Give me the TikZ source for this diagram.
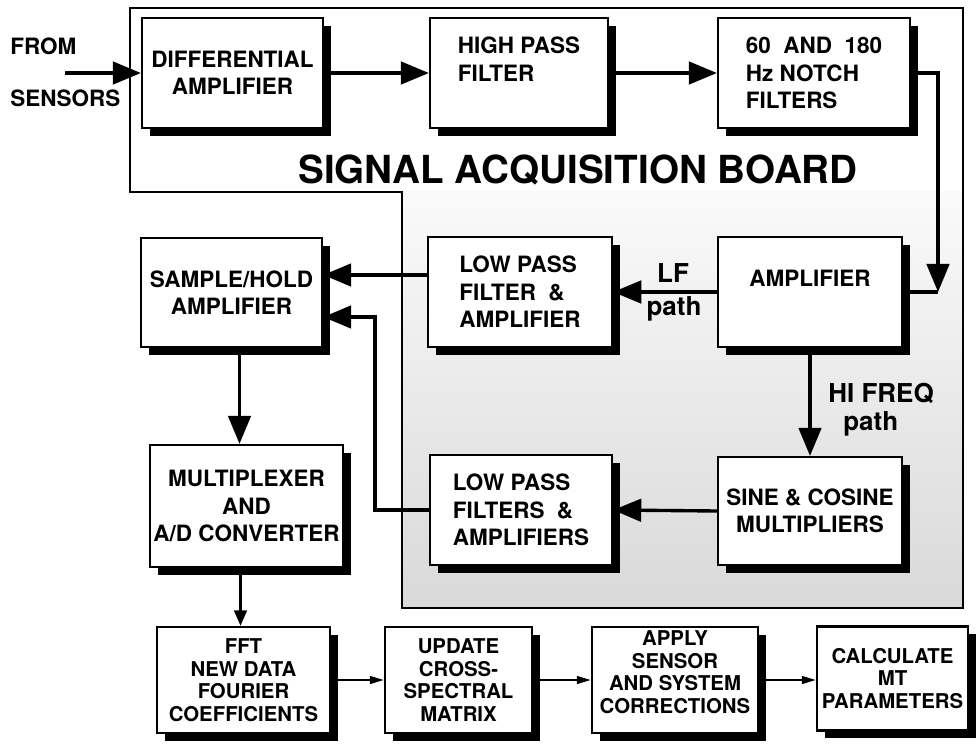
\documentclass[tikz,border=0pt]{standalone}
\usepackage{fontspec}
\setmainfont{TeX Gyre Heros}
\usetikzlibrary{arrows.meta, shadows}

\begin{document}
\begin{tikzpicture}[
  blk/.style={rectangle, draw=black, line width=1.6pt, fill=white,
              drop shadow={shadow xshift=0.2cm, shadow yshift=-0.2cm,
                           fill=black, opacity=1},
              align=center, inner sep=2pt,
              font=\fontsize{16}{19.5}\selectfont\bfseries},
  lblk/.style={blk, align=left},
  pblk/.style={blk, font=\fontsize{14.5}{16}\selectfont\bfseries},
  arr/.style={-{Triangle[length=20pt,width=16pt]}, line width=2.4pt},
  midarr/.style={-{Triangle[length=11pt,width=9pt]}, line width=1.8pt},
  smarr/.style={-{Triangle[length=10pt,width=5.5pt]}, line width=1.5pt},
  lbl/.style={font=\fontsize{16}{19.5}\selectfont\bfseries, anchor=base west, inner sep=0pt},
  plbl/.style={font=\fontsize{18.5}{20}\selectfont\bfseries, anchor=base, inner sep=0pt}
]
\useasboundingbox (0,0) rectangle (24.425,-18.625);

% signal acquisition board
\shade[top color=black!2, bottom color=black!15] (10.05,-4.8) rectangle (24.075,-15.2);
\draw[line width=1.5pt] (3.25,-0.2) -- (24.075,-0.2) -- (24.075,-15.2) -- (10.05,-15.2)
  -- (10.05,-4.8) -- (3.25,-4.8) -- cycle;
\node[font=\fontsize{27.5}{30}\selectfont\bfseries] (title) at (14.45,-4.25) {SIGNAL ACQUISITION BOARD};

\node[blk, minimum width=4.525cm, minimum height=2.75cm] (diff) at (5.8125,-1.825) {DIFFERENTIAL\\AMPLIFIER};
\node[lblk, minimum width=4.45cm, minimum height=2.75cm] (hpf) at (12.975,-1.825) {HIGH PASS\\FILTER\\\mbox{}};
\node[lblk, minimum width=4.8cm, minimum height=2.75cm] (notch) at (20.35,-1.825) {60\ \ AND\ \ 180\\Hz NOTCH\\FILTERS};
\node[blk, minimum width=4.525cm, minimum height=2.725cm] (sh) at (5.7875,-7.3125) {SAMPLE/HOLD\\AMPLIFIER};
\node[lblk, minimum width=4.6cm, minimum height=2.75cm] (lpfa) at (13.0,-7.3) {LOW PASS\\FILTER\ \ \&\\AMPLIFIER};
\node[blk, minimum width=4.6cm, minimum height=2.75cm] (amp) at (20.25,-7.3) {AMPLIFIER\\\mbox{}};
\node[blk, minimum width=4.825cm, minimum height=3.05cm] (mux) at (6.1625,-12.65) {MULTIPLEXER\\AND\\A/D CONVERTER};
\node[lblk, minimum width=4.55cm, minimum height=2.75cm] (lpfb) at (13.025,-12.75) {LOW PASS\\FILTERS\ \ \&\\AMPLIFIERS};
\node[blk, minimum width=4.6cm, minimum height=2.7cm] (sine) at (20.25,-12.775) {SINE \& COSINE\\MULTIPLIERS};

\node[pblk, minimum width=4.325cm, minimum height=2.65cm] (fft) at (6.0875,-17.0) {FFT\\NEW DATA\\FOURIER\\COEFFICIENTS};
\node[pblk, minimum width=3.675cm, minimum height=2.65cm] (upd) at (11.4625,-17.0) {UPDATE\\CROSS-\\SPECTRAL\\MATRIX};
\node[pblk, minimum width=4.15cm, minimum height=2.65cm] (corr) at (16.875,-17.0) {APPLY\\SENSOR\\AND SYSTEM\\CORRECTIONS\\[-5pt]\mbox{}};
\node[pblk, minimum width=3.775cm, minimum height=2.6cm] (calc) at (22.3125,-16.96) {CALCULATE\\MT\\PARAMETERS};

% labels
\node[lbl] (from) at (0.25,-1.375) {FROM};
\node[lbl] (sens) at (0.25,-2.675) {SENSORS};
\node[plbl] (lf) at (16.825,-7.05) {LF};
\node[plbl] (lfpath) at (16.85,-7.875) {path};
\node[plbl, anchor=base west] (hi) at (20.7,-10.05) {HI FREQ};
\node[plbl, anchor=base west] (hipath) at (21.075,-10.75) {path};

% connectors
\coordinate (src) at (1.625,-1.825);
\coordinate (turn) at (23.45,-7.3);
\coordinate (ret) at (9.375,-7.925);
\draw[arr] (src) -- (diff.west);
\draw[arr] (diff.east) -- (hpf.west);
\draw[arr] (hpf.east) -- (notch.west);
\draw[arr] (notch.east) -| (turn);
\draw[line width=2.4pt] (amp.east) -- (turn);
\draw[arr] (amp.west) -- (lpfa.east);
\draw[arr] ([yshift=0.425cm]lpfa.west) -- ([yshift=0.425cm]lpfa.west -| sh.east);
\draw[arr] (amp.south) -- (sine.north);
\draw[arr] (sine.west) -- (lpfb.east);
\draw[arr] (lpfb.west) -| (ret) -- (ret -| sh.east);
\draw[arr] ([xshift=0.2cm]sh.south) -- ([xshift=0.2cm]sh.south |- mux.north);
\draw[midarr] ([xshift=-0.15cm]mux.south) -- ([xshift=-0.15cm]mux.south |- fft.north);
\draw[smarr] (fft.east) -- (upd.west);
\draw[smarr] (upd.east) -- (corr.west);
\draw[smarr] (corr.east) -- (calc.west |- corr.east);
\end{tikzpicture}
\end{document}
